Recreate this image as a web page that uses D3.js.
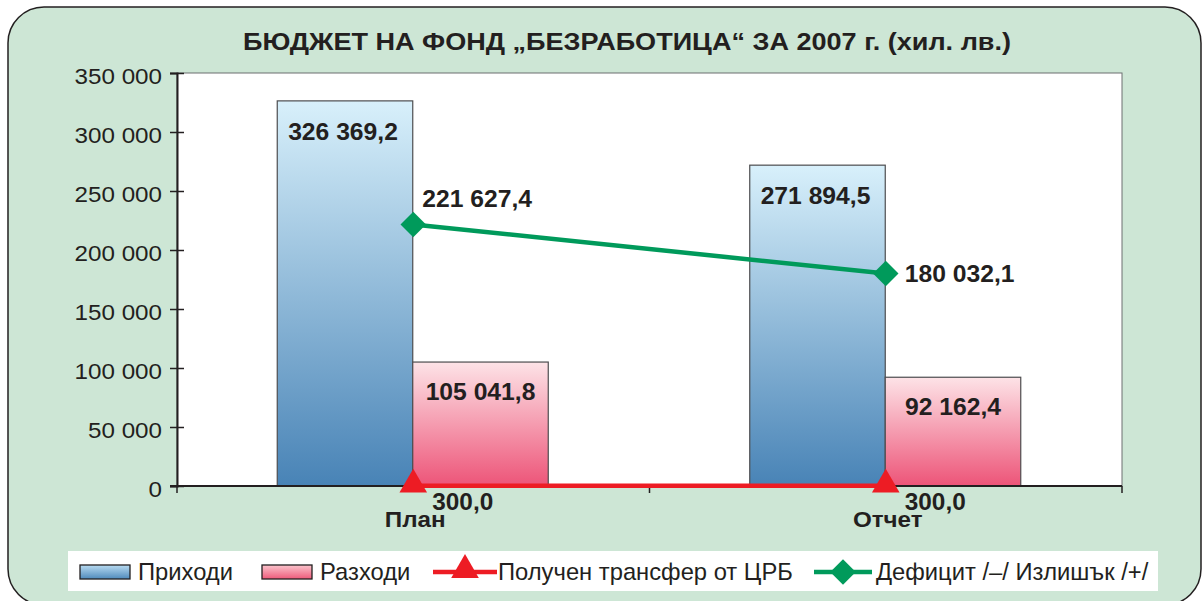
<!DOCTYPE html>
<html>
<head>
<meta charset="utf-8">
<script src="https://cdn.jsdelivr.net/npm/d3@7"></script>
<style>
  html, body { margin: 0; padding: 0; background: #fff; }
  svg { display: block; font-family: "Liberation Sans", Arial, sans-serif; }
</style>
</head>
<body>
<svg id="chart" width="1203" height="601"></svg>
<script>
// Budget of the unemployment fund, 2007 (thousand BGN)
const categories = ["План", "Отчет"];
const revenues = [326369.2, 271894.5];
const expenses = [105041.8, 92162.4];
const transfer = [300.0, 300.0];
const balance = [221627.4, 180032.1];
const yTicks = [0, 50000, 100000, 150000, 200000, 250000, 300000, 350000];
const seriesNames = ["Приходи", "Разходи", "Получен трансфер от ЦРБ", "Дефицит /–/ Излишък /+/"];
const titleText = "БЮДЖЕТ НА ФОНД „БЕЗРАБОТИЦА“ ЗА 2007 г. (хил. лв.)";

const svg = d3.select("#chart");
const plot = { left: 177, right: 1122, top: 73, bottom: 486 };
const ink = "#231f20";

const fmt = v => {
  const [i, d] = v.toFixed(1).split(".");
  return i.replace(/\B(?=(\d{3})+(?!\d))/g, " ") + "," + d;
};
const tickFmt = v => String(v).replace(/\B(?=(\d{3})+(?!\d))/g, " ");

// text with a slight horizontal stretch
function label(parent, x, y, txt, opts) {
  const o = Object.assign({ size: 22, bold: false, anchor: "middle", sx: 1.08 }, opts || {});
  const g = parent.append("g").attr("transform", `translate(${x},${y}) scale(${o.sx},1)`);
  g.append("text")
    .attr("text-anchor", o.anchor)
    .attr("font-size", o.size)
    .attr("font-weight", o.bold ? "bold" : "normal")
    .attr("fill", ink)
    .text(txt);
  return g;
}

// gradients
const defs = svg.append("defs");
function vgrad(id, c0, c1) {
  const g = defs.append("linearGradient").attr("id", id)
    .attr("x1", 0).attr("y1", 0).attr("x2", 0).attr("y2", 1);
  g.append("stop").attr("offset", 0).attr("stop-color", c0);
  g.append("stop").attr("offset", 1).attr("stop-color", c1);
}
vgrad("gBlue", "#d8f0fb", "#4883b6");
vgrad("gPink", "#fde3e7", "#ed5478");
vgrad("gBlueL", "#b9dcf2", "#4f8abb");
vgrad("gPinkL", "#fbc5cd", "#ee5a7a");

// panel background
svg.append("rect")
  .attr("x", 8).attr("y", 7).attr("width", 1193).attr("height", 598)
  .attr("rx", 36).attr("ry", 36)
  .attr("fill", "#cde6d5").attr("stroke", ink).attr("stroke-width", 1.5);

// title
label(svg, 627, 50, titleText, { size: 24.5, bold: true, sx: 1.105 });

// scales
const x0 = d3.scaleBand().domain(categories).range([plot.left, plot.right]);
const x1 = d3.scaleBand().domain(["rev", "exp"]).range([0, 271]);
const y = d3.scaleLinear().domain([0, 350000]).range([plot.bottom, plot.top]);
const cx = c => x0(c) + x0.bandwidth() / 2;
const groupStart = c => cx(c) - 136;

// plot area
svg.append("rect")
  .attr("x", plot.left).attr("y", plot.top)
  .attr("width", plot.right - plot.left).attr("height", plot.bottom - plot.top)
  .attr("fill", "#fff").attr("stroke", "#6d6e71").attr("stroke-width", 1);

// bars
const barG = svg.append("g");
categories.forEach((c, i) => {
  barG.append("rect")
    .attr("x", groupStart(c) + x1("rev")).attr("y", y(revenues[i]))
    .attr("width", x1.bandwidth()).attr("height", y(0) - y(revenues[i]))
    .attr("fill", "url(#gBlue)").attr("stroke", "#4d4d4f").attr("stroke-width", 1.2);
  barG.append("rect")
    .attr("x", groupStart(c) + x1("exp")).attr("y", y(expenses[i]))
    .attr("width", x1.bandwidth()).attr("height", y(0) - y(expenses[i]))
    .attr("fill", "url(#gPink)").attr("stroke", "#4d4d4f").attr("stroke-width", 1.2);
});

// y axis
const yAxis = d3.axisLeft(y).tickValues(yTicks).tickFormat(tickFmt).tickSize(7);
const yg = svg.append("g").attr("transform", `translate(${plot.left},0)`).call(yAxis);
yg.select(".domain").attr("stroke", ink).attr("stroke-width", 2);
yg.selectAll(".tick line").attr("stroke", ink).attr("stroke-width", 1.5).attr("x2", 7).attr("x1", -7);
yg.selectAll(".tick text").remove();
yg.selectAll(".tick").each(function (d) {
  label(d3.select(this), -15, 10, tickFmt(d), { size: 22, anchor: "end", sx: 1.1 });
});

// x axis
const xg = svg.append("g").attr("transform", `translate(0,${plot.bottom})`);
xg.append("line").attr("x1", plot.left - 7).attr("x2", plot.right).attr("y1", 0).attr("y2", 0)
  .attr("stroke", ink).attr("stroke-width", 2);
[plot.left, plot.left + x0.bandwidth(), plot.right].forEach(t => {
  xg.append("line").attr("x1", t).attr("x2", t).attr("y1", 0).attr("y2", 7)
    .attr("stroke", ink).attr("stroke-width", 1.5);
});
categories.forEach(c => {
  label(xg, cx(c) + 2, 41, c, { size: 22, bold: true, sx: 1.1 });
});

// transfer line (red, triangles)
const lineGen = d3.line().x(d => cx(d.c)).y(d => y(d.v));
const trData = categories.map((c, i) => ({ c, v: transfer[i] }));
svg.append("path").datum(trData).attr("d", lineGen)
  .attr("fill", "none").attr("stroke", "#ed1c24").attr("stroke-width", 4.5);
const tri = d3.symbol().type(d3.symbolTriangle).size(330);
svg.selectAll(".tri").data(trData).join("path")
  .attr("transform", d => `translate(${cx(d.c)},${y(d.v) - 1})`)
  .attr("d", tri).attr("fill", "#ed1c24");

// balance line (green, diamonds)
const balData = categories.map((c, i) => ({ c, v: balance[i] }));
svg.append("path").datum(balData).attr("d", lineGen)
  .attr("fill", "none").attr("stroke", "#009a5b").attr("stroke-width", 4.5);
svg.selectAll(".dia").data(balData).join("rect")
  .attr("x", -9).attr("y", -9).attr("width", 18).attr("height", 18)
  .attr("transform", d => `translate(${cx(d.c)},${y(d.v)}) rotate(45)`)
  .attr("fill", "#009a5b");

// value labels
const vOpt = { size: 23.5, bold: true, sx: 1.05 };
categories.forEach((c, i) => {
  const rx = groupStart(c) + x1("rev") + x1.bandwidth() / 2;
  const ex = groupStart(c) + x1("exp") + x1.bandwidth() / 2;
  label(svg, rx - 2, y(revenues[i]) + 39, fmt(revenues[i]), vOpt);
  label(svg, ex, y(expenses[i]) + 38, fmt(expenses[i]), vOpt);
  label(svg, cx(c) + 19, y(transfer[i]) + 24.5, fmt(transfer[i]),
    { size: 23, bold: true, sx: 1.06, anchor: "start" });
});
label(svg, cx(categories[0]) + 9, y(balance[0]) - 17, fmt(balance[0]), Object.assign({}, vOpt, { anchor: "start" }));
label(svg, cx(categories[1]) + 19, y(balance[1]) + 8.5, fmt(balance[1]), Object.assign({}, vOpt, { anchor: "start" }));

// legend
const lg = svg.append("g");
lg.append("rect").attr("x", 68).attr("y", 551).attr("width", 1090).attr("height", 40).attr("fill", "#fff");
const ly = 572;
lg.append("rect").attr("x", 80).attr("y", ly - 7).attr("width", 50).attr("height", 14)
  .attr("fill", "url(#gBlueL)").attr("stroke", ink).attr("stroke-width", 1.3);
lg.append("rect").attr("x", 262).attr("y", ly - 7).attr("width", 50).attr("height", 14)
  .attr("fill", "url(#gPinkL)").attr("stroke", ink).attr("stroke-width", 1.3);
lg.append("line").attr("x1", 433).attr("x2", 497).attr("y1", ly).attr("y2", ly)
  .attr("stroke", "#ed1c24").attr("stroke-width", 4.5);
lg.append("path").attr("transform", `translate(465,${ly - 2})`)
  .attr("d", d3.symbol().type(d3.symbolTriangle).size(330)).attr("fill", "#ed1c24");
lg.append("line").attr("x1", 814).attr("x2", 872).attr("y1", ly).attr("y2", ly)
  .attr("stroke", "#009a5b").attr("stroke-width", 4.5);
lg.append("rect").attr("x", -9).attr("y", -9).attr("width", 18).attr("height", 18)
  .attr("transform", `translate(843,${ly}) rotate(45)`).attr("fill", "#009a5b");
const legX = [138, 320, 498, 876];
seriesNames.forEach((n, i) => {
  label(lg, legX[i], ly + 8, n, { size: 24, anchor: "start", sx: 0.99 });
});
</script>
</body>
</html>
